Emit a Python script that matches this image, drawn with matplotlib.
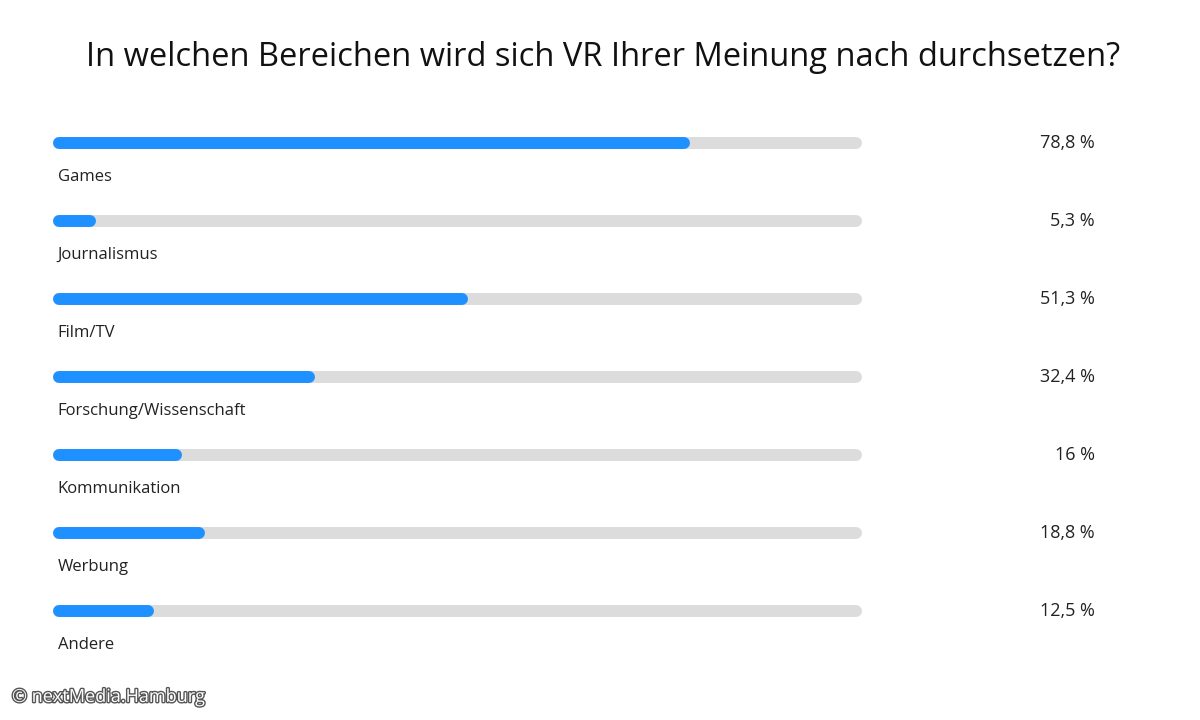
import matplotlib.pyplot as plt
import matplotlib.patheffects as pe

categories = ["Games", "Journalismus", "Film/TV", "Forschung/Wissenschaft", "Kommunikation", "Werbung", "Andere"]
values = [78.8, 5.3, 51.3, 32.4, 16, 18.8, 12.5]
value_labels = ["78,8 %", "5,3 %", "51,3 %", "32,4 %", "16 %", "18,8 %", "12,5 %"]

plt.rcParams['font.family'] = 'Open Sans'
fig = plt.figure(figsize=(12, 7.2), dpi=100)
fig.patch.set_facecolor('white')
ax = fig.add_axes([53/1200, 40/720, 809/1200, 580/720])
ax.set_xlim(0, 100)
ax.set_ylim(6 + 69/78, -43/78)
ax.axis('off')

cap = 0.75
for i, (c, v, lab) in enumerate(zip(categories, values, value_labels)):
    ax.plot([cap, 100 - cap], [i, i], color='#dcdcdc', lw=8.6, solid_capstyle='round', zorder=1)
    ax.plot([cap, max(v - cap, cap)], [i, i], color='#1e90ff', lw=8.6, solid_capstyle='round', zorder=2)
    ax.text(0.6, i + 0.44, c, fontsize=12, color='#222222', va='center', ha='left')
    ax.text(128.8, i, lab, fontsize=13, color='#222222', va='center', ha='right', clip_on=False)

fig.text(603/1200, 1 - 58/720, "In welchen Bereichen wird sich VR Ihrer Meinung nach durchsetzen?",
         fontsize=23.5, ha='center', va='center', color='#111111')
fig.text(12/1200, 1 - 697/720, "© nextMedia.Hamburg", fontsize=13, color='white', ha='left', va='center',
         path_effects=[pe.withStroke(linewidth=2, foreground='#555555')])
fig.savefig('out.png', dpi=100)
